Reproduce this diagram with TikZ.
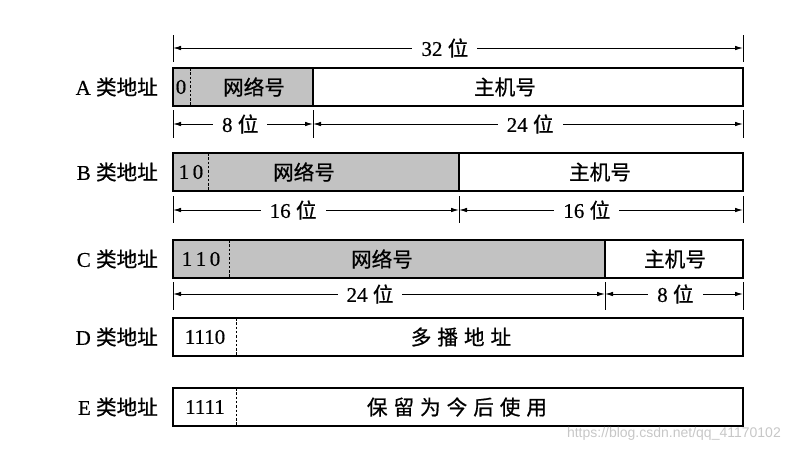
\documentclass[tikz,border=0pt]{standalone}
\usepackage{fontspec}
\setmainfont{Liberation Serif}[FakeBold=0.5]
\newfontfamily\cjk[Scale=0.98,FakeBold=0.7]{Noto Sans CJK SC}
\newfontfamily\wmfont{Liberation Sans}
\usetikzlibrary{arrows.meta}
\begin{document}
\begin{tikzpicture}[x=1pt,y=-1pt,
  boxline/.style={draw=black,line width=1.5pt},
  netfill/.style={fill=black!24},
  sepline/.style={draw=black,line width=1pt,dash pattern=on 2.5pt off 1.8pt},
  tick/.style={draw=black,line width=0.9pt},
  dimarr/.style={draw=black,line width=0.9pt,{Latex[length=8pt,width=4.5pt]}-{Latex[length=8pt,width=4.5pt]}},
  dimlab/.style={fill=white,inner xsep=9pt,inner ysep=1pt,font=\fontsize{21}{21}\selectfont},
  txt/.style={inner sep=0pt,font=\fontsize{21}{21}\selectfont},
  cls/.style={inner sep=0pt,anchor=east,font=\fontsize{21}{21}\selectfont}]
\useasboundingbox (0,0) rectangle (789,451);
% ---------- 32 bit dimension ----------
\coordinate (L32) at (173,48);
\coordinate (R32) at (743,48);
\draw[tick] (173,35) -- (173,62);
\draw[tick] (743,35) -- (743,62);
\draw[dimarr] (L32) -- (R32) node[dimlab,pos=0.477]{32 {\cjk 位}};
% ---------- A ----------
\node[cls] (la) at (158,87) {A {\cjk 类地址}};
\path[netfill] (173,68) rectangle (313,106);
\draw[boxline] (173,68) rectangle (743,106);
\draw[boxline] (313,68) -- (313,106);
\draw[sepline] (190,68) -- (190,106);
\node[txt] (a0) at (181,87) {0};
\node[txt] (an) at (254,87) {\cjk 网络号};
\node[txt] (ah) at (505,87) {\cjk 主机号};
\coordinate (LA) at (173,124);
\coordinate (MA) at (313,124);
\coordinate (RA) at (743,124);
\draw[tick] (173,110) -- (173,138);
\draw[tick] (313,110) -- (313,138);
\draw[tick] (743,110) -- (743,138);
\draw[dimarr] (LA) -- (MA) node[dimlab,pos=0.48]{8 {\cjk 位}};
\draw[dimarr] (MA) -- (RA) node[dimlab,pos=0.505]{24 {\cjk 位}};
% ---------- B ----------
\node[cls] (lb) at (158,172) {B {\cjk 类地址}};
\path[netfill] (173,153) rectangle (459,191);
\draw[boxline] (173,153) rectangle (743,191);
\draw[boxline] (459,153) -- (459,191);
\draw[sepline] (208,153) -- (208,191);
\node[txt] (b0) at (191,172) {1\,0};
\node[txt] (bn) at (304,172) {\cjk 网络号};
\node[txt] (bh) at (600,172) {\cjk 主机号};
\coordinate (LB) at (173,210);
\coordinate (MB) at (459,210);
\coordinate (RB) at (743,210);
\draw[tick] (173,196) -- (173,223);
\draw[tick] (459,196) -- (459,223);
\draw[tick] (743,196) -- (743,223);
\draw[dimarr] (LB) -- (MB) node[dimlab,pos=0.42]{16 {\cjk 位}};
\draw[dimarr] (MB) -- (RB) node[dimlab,pos=0.45]{16 {\cjk 位}};
% ---------- C ----------
\node[cls] (lc) at (158,259) {C {\cjk 类地址}};
\path[netfill] (173,240) rectangle (605,278);
\draw[boxline] (173,240) rectangle (743,278);
\draw[boxline] (605,240) -- (605,278);
\draw[sepline] (229,240) -- (229,278);
\node[txt] (c0) at (201,259) {1\,1\,0};
\node[txt] (cn) at (382,259) {\cjk 网络号};
\node[txt] (ch) at (675,259) {\cjk 主机号};
\coordinate (LC) at (173,294);
\coordinate (MC) at (605,294);
\coordinate (RC) at (743,294);
\draw[tick] (173,282) -- (173,310);
\draw[tick] (605,282) -- (605,310);
\draw[tick] (743,282) -- (743,310);
\draw[dimarr] (LC) -- (MC) node[dimlab,pos=0.456]{24 {\cjk 位}};
\draw[dimarr] (MC) -- (RC) node[dimlab,pos=0.51]{8 {\cjk 位}};
% ---------- D ----------
\node[cls] (ld) at (158,337) {D {\cjk 类地址}};
\draw[boxline] (173,318) rectangle (743,356);
\draw[sepline] (236,318) -- (236,356);
\node[txt] (d0) at (205,337) {1110};
\node[txt] (dn) at (461,337) {\cjk 多\hspace{6pt}播\hspace{6pt}地\hspace{6pt}址};
% ---------- E ----------
\node[cls] (le) at (158,407) {E {\cjk 类地址}};
\draw[boxline] (173,388) rectangle (743,426);
\draw[sepline] (236,388) -- (236,426);
\node[txt] (e0) at (205,407) {1111};
\node[txt] (en) at (457,407) {\cjk 保\hspace{6pt}留\hspace{6pt}为\hspace{6pt}今\hspace{6pt}后\hspace{6pt}使\hspace{6pt}用};
% ---------- watermark ----------
\node[inner sep=0pt,anchor=east,text=black!22,font=\wmfont\fontsize{14}{14}\selectfont] (wm) at (781,434) {https://blog.csdn.net/qq\_41170102};
\end{tikzpicture}
\end{document}
